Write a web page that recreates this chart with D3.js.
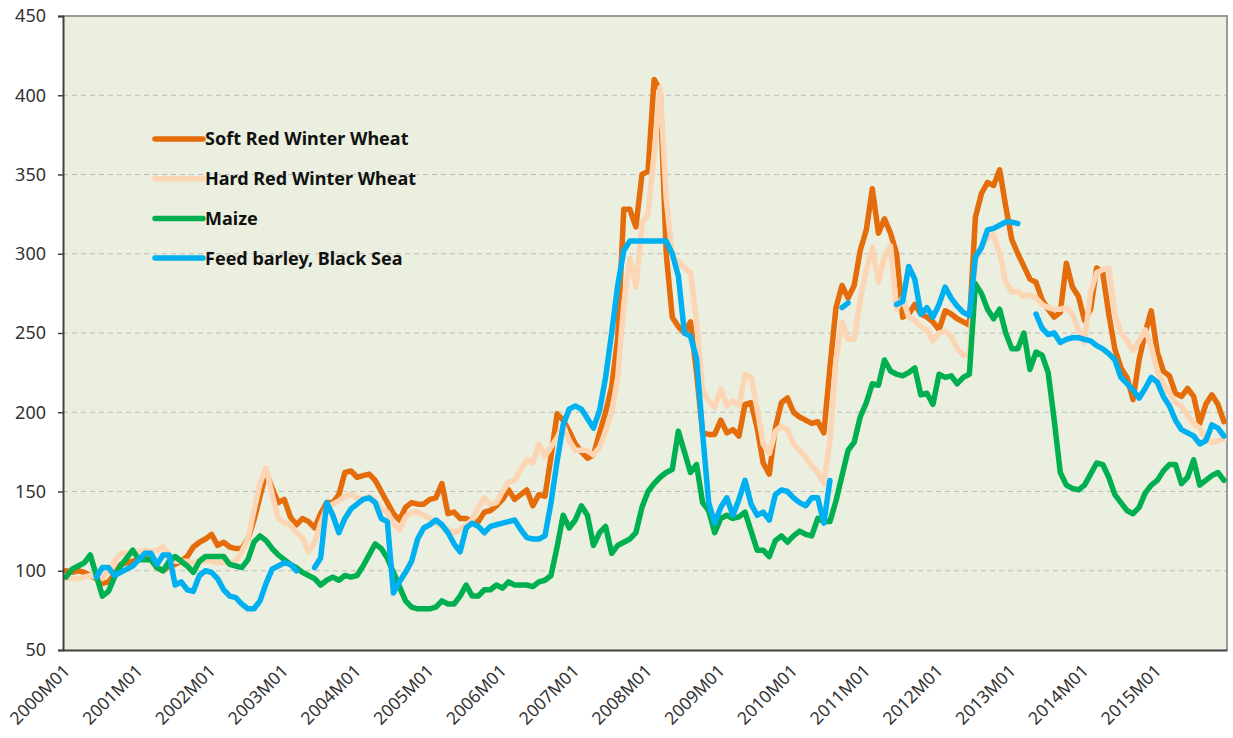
<!DOCTYPE html>
<html>
<head>
<meta charset="utf-8">
<script src="https://cdn.jsdelivr.net/npm/d3@7"></script>
<style>
  body { margin: 0; background: #fff; }
  svg { display: block; font-family: "Noto Sans", "Open Sans", sans-serif; }
  .grid line { stroke: #bdbdbd; stroke-dasharray: 5 4; }
  .axis text { fill: #333; }
  .series { fill: none; stroke-width: 5.5; stroke-linejoin: round; stroke-linecap: round; }
  .legend text { font-weight: bold; font-size: 18px; fill: #111; }
</style>
</head>
<body>
<svg id="chart" width="1233" height="738"></svg>
<script>
/* Cereal price indices, monthly 2000M01 - 2015M12 */

const years = [2000, 2001, 2002, 2003, 2004, 2005, 2006, 2007,
               2008, 2009, 2010, 2011, 2012, 2013, 2014, 2015];
const monthCodes = ["M01", "M02", "M03", "M04", "M05", "M06",
                    "M07", "M08", "M09", "M10", "M11", "M12"];
const yTicks = [50, 100, 150, 200, 250, 300, 350, 400, 450];

// Soft Red Winter Wheat
const softRedWinter = [
  100, 99, 100, 99, 97, 95, 92, 93, 98, 104, 105, 106,
  107, 108, 107, 102, 100, 103, 104, 106, 109, 115, 118, 120,
  123, 116, 118, 115, 114, 114, 120, 132, 147, 162, 152, 143,
  145, 134, 129, 133, 131, 127, 136, 143, 143, 148, 162, 163,
  159, 160, 161, 157, 150, 143, 136, 132, 140, 143, 142, 142,
  145, 146, 155, 136, 137, 133, 133, 131, 131, 137, 138, 141,
  145, 151, 145, 148, 151, 141, 148, 147, 172, 199, 195, 188,
  180, 175, 171, 173, 187, 200, 216, 247, 328, 328, 317, 350,
  352, 410, 403, 300, 260, 254, 250, 257, 225, 187, 186, 186,
  195, 187, 189, 185, 205, 206, 190, 168, 161, 190, 206, 209,
  200, 197, 195, 193, 194, 187, 228, 266, 280, 272, 280, 302,
  315, 341, 313, 322, 313, 300, 260, 262, 268, 262, 260, 257,
  252, 264, 262, 259, 257, 255, 323, 338, 345, 343, 353, 330,
  309, 300, 292, 284, 282, 271, 265, 260, 263, 294, 279, 273,
  258, 265, 291, 288, 262, 240, 228, 222, 208, 233, 250, 264,
  238, 226, 223, 212, 210, 215, 210, 193, 205, 211, 205, 194
];

// Hard Red Winter Wheat
const hardRedWinter = [
  95, 95, 95, 96, 97, 96, 95, 100, 106, 111, 111, 112,
  112, 113, 112, 113, 115, 110, 106, 106, 106, 105, 106, 106,
  106, 105, 105, 105, 106, 112, 120, 138, 155, 165, 148, 133,
  130, 129, 124, 121, 112, 118, 130, 140, 142, 144, 147, 148,
  146, 145, 147, 144, 139, 137, 130, 126, 134, 137, 137, 135,
  133, 130, 128, 126, 124, 126, 129, 132, 140, 146, 142, 143,
  150, 156, 157, 164, 170, 168, 180, 172, 178, 184, 192, 182,
  176, 176, 176, 173, 178, 188, 200, 222, 268, 297, 279, 319,
  325, 363, 405, 335, 298, 295, 291, 288, 258, 214, 207, 203,
  215, 204, 207, 204, 224, 222, 202, 180, 174, 188, 191, 189,
  180, 176, 172, 166, 162, 155, 182, 233, 257, 246, 246, 271,
  290, 304, 282, 298, 305, 265, 272, 260, 258, 254, 252, 245,
  250, 251, 248, 240, 236, 236, 295, 305, 310, 312, 300, 282,
  276, 276, 273, 274, 272, 268, 266, 265, 265, 266, 262, 252,
  244, 276, 288, 290, 291, 262, 250, 245, 239, 245, 252, 242,
  226, 218, 212, 206, 204, 198, 193, 190, 183, 181, 182, 183
];

// Maize
const maize = [
  96, 101, 103, 105, 110, 97, 84, 87, 96, 103, 108, 113,
  107, 107, 107, 102, 100, 106, 109, 106, 103, 99, 106, 109,
  109, 109, 109, 104, 103, 102, 107, 118, 122, 119, 114, 110,
  107, 104, 102, 99, 97, 95, 91, 94, 96, 94, 97, 96,
  97, 103, 110, 117, 114, 108, 99, 90, 81, 77, 76, 76,
  76, 77, 81, 79, 79, 84, 91, 84, 84, 88, 88, 91,
  89, 93, 91, 91, 91, 90, 93, 94, 97, 115, 135, 127,
  132, 141, 135, 116, 124, 128, 111, 116, 118, 120, 124, 140,
  150, 155, 159, 162, 164, 188, 175, 162, 167, 143, 138, 124,
  133, 135, 133, 134, 137, 125, 113, 113, 109, 119, 122, 118,
  122, 125, 123, 122, 133, 131, 131, 144, 160, 176, 181, 197,
  206, 218, 217, 233, 226, 224, 223, 225, 228, 211, 212, 205,
  224, 222, 223, 218, 222, 224, 281, 275, 265, 259, 265, 250,
  240, 240, 250, 227, 238, 236, 225, 195, 162, 154, 152, 151,
  154, 161, 168, 167, 159, 148, 143, 138, 136, 140, 149, 154,
  157, 163, 167, 167, 155, 159, 170, 154, 157, 160, 162, 157
];

// Feed barley, Black Sea (null = no quote)
const feedBarley = [
  null, null, null, null, null, 96, 102, 102, 97, 99, 101, 103,
  107, 111, 111, 104, 110, 110, 91, 93, 88, 87, 97, 100,
  99, 95, 88, 84, 83, 79, 76, 76, 81, 92, 101, 103,
  105, 104, 100, null, null, 102, 108, 143, 135, 124, 133, 139,
  142, 145, 146, 143, 133, 131, 86, 93, 99, 106, 120, 127,
  129, 132, 129, 124, 117, 112, 127, 130, 128, 124, 128, 129,
  130, 131, 132, 126, 121, 120, 120, 122, 143, 169, 192, 202,
  204, 202, 196, 190, 201, 222, 250, 280, 302, 308, 308, 308,
  308, 308, 308, 308, 300, 286, 250, 248, 234, 187, 143, 130,
  140, 146, 135, 145, 157, 142, 135, 137, 132, 148, 151, 150,
  146, 143, 141, 146, 146, 130, 157, null, 266, 269, null, null,
  null, null, null, null, null, 268, 270, 292, 284, 262, 266, 260,
  268, 279, 272, 267, 263, 261, 298, 304, 315, 316, 318, 320,
  320, 319, null, null, 262, 253, 249, 250, 244, 246, 247, 247,
  246, 245, 242, 240, 237, 233, 222, 218, 214, 209, 215, 222,
  219, 210, 204, 195, 189, 187, 185, 180, 182, 192, 190, 185
];

const seriesList = [
  { name: "Soft Red Winter Wheat", values: softRedWinter, color: "#e46c0a" },
  { name: "Hard Red Winter Wheat", values: hardRedWinter, color: "#fcd5b5" },
  { name: "Maize", values: maize, color: "#00b050" },
  { name: "Feed barley, Black Sea", values: feedBarley, color: "#00b0f0" }
];

const periods = years.flatMap(y => monthCodes.map(m => y + m));

const svg = d3.select("#chart");
const plot = { left: 63, right: 1227, top: 16, bottom: 650 };

const x = d3.scaleBand()
  .domain(periods)
  .range([plot.left, plot.right]);
const xc = p => x(p) + x.bandwidth() / 2;

const y = d3.scaleLinear()
  .domain([50, 450])
  .range([plot.bottom, plot.top]);

// plot background
svg.append("rect")
  .attr("x", plot.left)
  .attr("y", plot.top)
  .attr("width", plot.right - plot.left)
  .attr("height", plot.bottom - plot.top)
  .attr("fill", "#ebefdf");

// gridlines
svg.append("g")
  .attr("class", "grid")
  .selectAll("line")
  .data(yTicks.slice(1, -1))
  .enter()
  .append("line")
  .attr("x1", plot.left)
  .attr("x2", plot.right)
  .attr("y1", d => y(d))
  .attr("y2", d => y(d));

// top and right frame
svg.append("path")
  .attr("d", `M${plot.left},${plot.top}H${plot.right}V${plot.bottom}`)
  .attr("fill", "none")
  .attr("stroke", "#9a9a9a")
  .attr("stroke-width", 2);

// series lines
const line = d3.line()
  .defined(d => d.v != null)
  .x(d => xc(d.p))
  .y(d => y(d.v));

svg.append("g")
  .selectAll("path")
  .data(seriesList)
  .enter()
  .append("path")
  .attr("class", "series")
  .attr("stroke", d => d.color)
  .attr("d", d => line(d.values.map((v, i) => ({ p: periods[i], v: v }))));

// y axis
const yAxis = svg.append("g")
  .attr("class", "axis")
  .attr("transform", `translate(${plot.left},0)`)
  .call(d3.axisLeft(y).tickValues(yTicks).tickSize(5).tickPadding(12));
yAxis.select(".domain").attr("stroke", "#404040").attr("stroke-width", 2);
yAxis.selectAll(".tick line").attr("stroke", "#404040").attr("stroke-width", 1.5);
yAxis.selectAll("text")
  .attr("font-size", 18)
  .attr("font-family", "Noto Sans, sans-serif");

// x axis
const xAxis = svg.append("g")
  .attr("class", "axis")
  .attr("transform", `translate(0,${plot.bottom})`)
  .call(d3.axisBottom(x)
    .tickValues(periods.filter((p, i) => i % 12 === 0))
    .tickSize(0)
    .tickPadding(0));
xAxis.select(".domain").attr("stroke", "#404040").attr("stroke-width", 2);
xAxis.selectAll("text")
  .attr("font-size", 17.5)
  .attr("font-family", "Noto Sans, sans-serif")
  .attr("text-anchor", "end")
  .attr("dy", null)
  .attr("y", 0)
  .attr("transform", "translate(5,22) rotate(-45)");

// legend
const legend = svg.append("g")
  .attr("class", "legend")
  .attr("transform", "translate(155,139)");

const item = legend.selectAll("g")
  .data(seriesList)
  .enter()
  .append("g")
  .attr("transform", (d, i) => `translate(0,${i * 39.7})`);

item.append("line")
  .attr("x1", 0)
  .attr("x2", 48)
  .attr("stroke", d => d.color)
  .attr("stroke-width", 5.5)
  .attr("stroke-linecap", "round");

item.append("text")
  .attr("x", 50)
  .attr("dy", "0.36em")
  .text(d => d.name);
</script>
</body>
</html>
